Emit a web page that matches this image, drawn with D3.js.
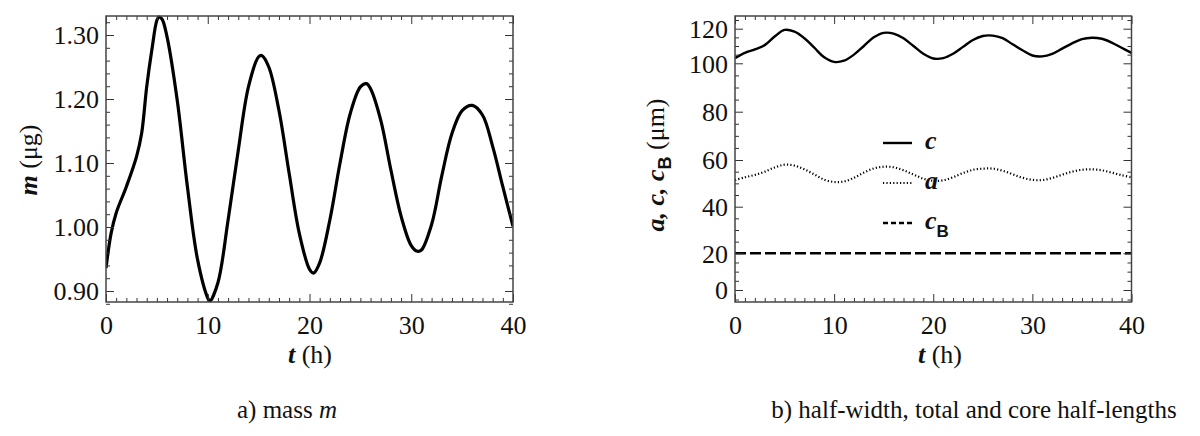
<!DOCTYPE html>
<html>
<head>
<meta charset="utf-8">
<script src="https://cdn.jsdelivr.net/npm/d3@7"></script>
<style>
  body { margin: 0; background: #fff; }
  svg { display: block; }
</style>
</head>
<body>
<svg id="chart" width="1200" height="436"></svg>
<script>
const SERIF = "'Liberation Serif', Tinos, 'Nimbus Roman', 'Nimbus Roman No9 L', FreeSerif, 'Noto Serif', 'DejaVu Serif', 'Times New Roman', Times, serif";
const SANS = "'Liberation Sans', Arial, 'DejaVu Sans', sans-serif";

// time grid (h), shared by the sampled curves
const tHours = d3.range(0, 41);

// a) mass m (µg)
const massM = [0.936, 1.022, 1.063, 1.110, 1.219, 1.323, 1.297, 1.198, 1.063, 0.949,
  0.889, 0.913, 1.011, 1.120, 1.219, 1.266, 1.250, 1.182, 1.084, 0.990,
  0.934, 0.944, 1.011, 1.100, 1.177, 1.219, 1.216, 1.167, 1.089, 1.017,
  0.971, 0.964, 1.004, 1.080, 1.146, 1.182, 1.190, 1.175, 1.126, 1.063, 1.001];
// extra samples near the peaks and troughs
const massExtraT = [0.5, 3.5, 4.5, 5.2, 5.5, 10.2, 15.3, 20.4, 25.6, 30.6];
const massExtraM = [0.990, 1.146, 1.276, 1.328, 1.325, 0.884, 1.268, 0.928, 1.224, 0.962];

// b) total half-length c, half-width a (µm)
const halfLenC = [103.0, 106.0, 108.0, 110.5, 115.5, 119.3, 118.3, 114.5, 109.0, 103.5,
  100.8, 101.5, 105.0, 110.0, 115.0, 117.6, 117.2, 114.5, 110.0, 105.5,
  102.8, 103.0, 105.5, 109.5, 113.5, 115.8, 116.0, 114.5, 111.0, 107.5,
  104.5, 104.0, 105.5, 108.5, 111.5, 114.0, 114.8, 114.2, 112.0, 109.0, 106.0];
const halfWidthA = [51.4, 52.6, 53.6, 55.0, 56.8, 58.0, 57.6, 56.0, 53.8, 51.6,
  50.6, 50.8, 52.4, 54.6, 56.4, 57.1, 56.9, 55.6, 53.8, 52.0,
  51.1, 51.3, 52.6, 54.4, 55.8, 56.3, 56.3, 55.4, 53.9, 52.4,
  51.5, 51.4, 52.3, 53.7, 55.0, 55.8, 56.0, 55.6, 54.6, 53.5, 52.6];
// core half-length c_B (µm), constant
const coreT = [0, 40];
const coreCB = [20, 20];

const xTicks = [0, 10, 20, 30, 40];
const massTicks = [0.90, 1.00, 1.10, 1.20, 1.30];
const lenTicks = [0, 20, 40, 60, 80, 100, 120];

const svg = d3.select("#chart");

function styledText(sel, size) {
  return sel.attr("font-family", SERIF).style("font-family", SERIF)
    .style("font-size", size + "px").attr("fill", "#111");
}

function frameAxes(g, x, y, box, opt) {
  const { left, right, top, bottom } = box;
  const mk = (axis, tx, ty) => {
    const a = g.append("g").attr("transform", `translate(${tx},${ty})`).call(axis);
    a.select(".domain").remove();
    a.selectAll("line").attr("stroke", "#333").attr("stroke-width", 1);
    return a;
  };
  // minor ticks, all four sides
  mk(d3.axisBottom(x).tickValues(opt.xMinor).tickSize(-4).tickFormat(""), 0, bottom);
  mk(d3.axisTop(x).tickValues(opt.xMinor).tickSize(-4).tickFormat(""), 0, top);
  mk(d3.axisLeft(y).tickValues(opt.yMinor).tickSize(-4).tickFormat(""), left, 0);
  mk(d3.axisRight(y).tickValues(opt.yMinor).tickSize(-4).tickFormat(""), right, 0);
  // major ticks
  const xb = mk(d3.axisBottom(x).tickValues(opt.xMajor).tickSize(-8).tickPadding(14).tickFormat(d3.format("d")), 0, bottom);
  mk(d3.axisTop(x).tickValues(opt.xMajor).tickSize(-8).tickFormat(""), 0, top);
  const yl = mk(d3.axisLeft(y).tickValues(opt.yMajor).tickSize(-8).tickPadding(7).tickFormat(opt.yFormat), left, 0);
  mk(d3.axisRight(y).tickValues(opt.yMajor).tickSize(-8).tickFormat(""), right, 0);
  [xb, yl].forEach(a => { a.attr("font-family", null); styledText(a.selectAll("text"), 26); });
  yl.selectAll("text").attr("dy", "0.34em");

  g.append("rect").attr("x", left).attr("y", top)
    .attr("width", right - left).attr("height", bottom - top)
    .attr("fill", "none").attr("stroke", "#444").attr("stroke-width", 1.5);
}

// ---------- panel a ----------
const boxA = { left: 106, right: 513, top: 16, bottom: 302 };
const xA = d3.scaleLinear().domain([0, 40]).range([boxA.left, boxA.right]);
const yA = d3.scaleLinear().domain([0.8828, 1.3297]).range([boxA.bottom, boxA.top]);
const gA = svg.append("g");

gA.append("clipPath").attr("id", "clipA").append("rect")
  .attr("x", boxA.left).attr("y", boxA.top - 2)
  .attr("width", boxA.right - boxA.left).attr("height", boxA.bottom - boxA.top + 2);

const massPts = tHours.map((t, i) => [t, massM[i]])
  .concat(massExtraT.map((t, i) => [t, massExtraM[i]]))
  .sort((p, q) => p[0] - q[0]);

gA.append("path")
  .datum(massPts)
  .attr("clip-path", "url(#clipA)")
  .attr("fill", "none").attr("stroke", "#000").attr("stroke-width", 3.2)
  .attr("d", d3.line().x(d => xA(d[0])).y(d => yA(d[1])).curve(d3.curveCatmullRom.alpha(0.5)));

frameAxes(gA, xA, yA, boxA, {
  xMajor: xTicks, xMinor: d3.range(0, 41, 1).filter(v => v % 10),
  yMajor: massTicks, yMinor: d3.range(0.88, 1.33, 0.02).filter(v => Math.round(v * 100) % 10),
  yFormat: d3.format(".2f")
});

// labels panel a
styledText(gA.append("text"), 26).attr("transform", "translate(37,160) rotate(-90)")
  .attr("text-anchor", "middle")
  .call(t => {
    t.append("tspan").attr("font-weight", "bold").attr("font-style", "italic").text("m");
    t.append("tspan").text(" (μg)");
  });
styledText(gA.append("text"), 26).attr("x", 310).attr("y", 363).attr("text-anchor", "middle")
  .call(t => {
    t.append("tspan").attr("font-weight", "bold").attr("font-style", "italic").text("t");
    t.append("tspan").text(" (h)");
  });
styledText(gA.append("text"), 25).attr("x", 287).attr("y", 418).attr("text-anchor", "middle")
  .call(t => {
    t.append("tspan").text("a) mass ");
    t.append("tspan").attr("font-style", "italic").text("m");
  });

// ---------- panel b ----------
const boxB = { left: 735, right: 1131.5, top: 16, bottom: 302 };
const xB = d3.scaleLinear().domain([0, 40]).range([boxB.left, boxB.right]);
// the reference's y axis is unevenly spaced (ends are compressed), so a piecewise linear scale follows its ticks
const yB = d3.scaleLinear()
  .domain([-6.3, 0, 20, 40, 60, 80, 100, 120, 127.3])
  .range([302, 290, 253.3, 206.7, 160, 111.7, 63.3, 28.7, 16]);
const gB = svg.append("g");

gB.append("clipPath").attr("id", "clipB").append("rect")
  .attr("x", boxB.left).attr("y", boxB.top)
  .attr("width", boxB.right - boxB.left).attr("height", boxB.bottom - boxB.top);

const lineB = d3.line().x(d => xB(d[0])).y(d => yB(d[1])).curve(d3.curveCatmullRom.alpha(0.5));

const seriesB = [
  { key: "c", pts: tHours.map((t, i) => [t, halfLenC[i]]), width: 2.4, dash: null, legendDash: null },
  { key: "a", pts: tHours.map((t, i) => [t, halfWidthA[i]]), width: 2.2, dash: "1.2,2.2", legendDash: "1.2,2.2" },
  { key: "cB", pts: coreT.map((t, i) => [t, coreCB[i]]), width: 2.4, dash: "11,4", legendDash: "5,3" }
];

gB.selectAll("path.curve")
  .data(seriesB)
  .enter()
  .append("path")
  .attr("class", "curve")
  .attr("clip-path", "url(#clipB)")
  .attr("fill", "none").attr("stroke", "#000")
  .attr("stroke-width", d => d.width)
  .attr("stroke-dasharray", d => d.dash)
  .attr("d", d => lineB(d.pts));

frameAxes(gB, xB, yB, boxB, {
  xMajor: xTicks, xMinor: d3.range(0, 41, 1).filter(v => v % 10),
  yMajor: lenTicks, yMinor: d3.range(-5, 126, 5).filter(v => v % 20),
  yFormat: d3.format("d")
});

// legend
const legend = gB.append("g").attr("transform", "translate(883,143)");
const legendItems = legend.selectAll(".legend-item")
  .data(seriesB)
  .enter()
  .append("g")
  .attr("class", "legend-item")
  .attr("transform", (d, i) => `translate(0, ${i * 40})`);

legendItems.append("line")
  .attr("x1", 0).attr("x2", 29).attr("y1", 0).attr("y2", 0)
  .attr("stroke", "#000").attr("stroke-width", d => d.width)
  .attr("stroke-dasharray", d => d.legendDash);

styledText(legendItems.append("text"), 26)
  .attr("x", 42).attr("y", 6)
  .attr("font-weight", "bold").attr("font-style", "italic")
  .each(function (d) {
    const t = d3.select(this);
    t.append("tspan").text(d.key === "a" ? "a" : "c");
    if (d.key === "cB") {
      t.append("tspan").attr("dy", 8).attr("font-family", SANS).style("font-family", SANS)
        .style("font-size", "17px").attr("font-style", "normal").text("B");
    }
  });

styledText(gB.append("text"), 26).attr("transform", "translate(664,165) rotate(-90)")
  .attr("text-anchor", "middle")
  .call(t => {
    t.append("tspan").attr("font-weight", "bold").attr("font-style", "italic").text("a, c, c");
    t.append("tspan").attr("dy", 7).attr("font-family", SANS).style("font-family", SANS)
      .attr("font-weight", "bold").style("font-size", "18px").text("B");
    t.append("tspan").attr("dy", -7).text(" (μm)");
  });
styledText(gB.append("text"), 26).attr("x", 940).attr("y", 363).attr("text-anchor", "middle")
  .call(t => {
    t.append("tspan").attr("font-weight", "bold").attr("font-style", "italic").text("t");
    t.append("tspan").text(" (h)");
  });
styledText(gB.append("text"), 25).attr("x", 974).attr("y", 418).attr("text-anchor", "middle")
  .text("b) half-width, total and core half-lengths");
</script>
</body>
</html>
